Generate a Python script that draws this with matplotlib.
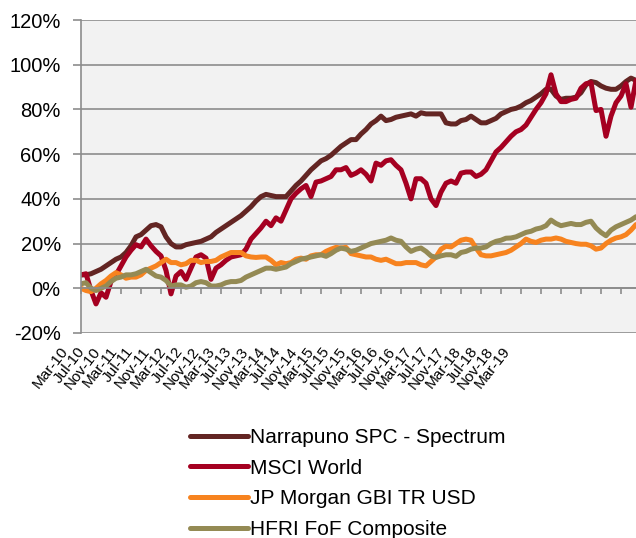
import matplotlib
matplotlib.use('Agg')
import matplotlib.pyplot as plt
import matplotlib.transforms as mtransforms
import numpy as np

plt.rcParams['font.family'] = ['Liberation Sans', 'DejaVu Sans']

# cumulative performance, monthly from Mar-10 (in %)
narrapuno = [6, 6, 6.5, 7.5, 8.5, 10, 11.5, 13, 14, 16,
             19, 23, 24, 26, 28, 28.5, 27.5, 23, 20, 18.5,
             18.5, 19.5, 20, 20.5, 21, 22, 23, 25, 26.5, 28,
             29.5, 31, 32.5, 34.5, 36.5, 39, 41, 42, 41.5, 41,
             41, 41, 43.5, 46, 48, 50.5, 53, 55, 57, 58,
             59.5, 61.5, 63.5, 65, 66.5, 66.5, 69, 71, 73.5, 75,
             77, 75, 75.5, 76.5, 77, 77.5, 78, 77, 78.5, 78,
             78, 78, 78, 74, 73.5, 73.5, 75, 75.5, 77, 75.5,
             74, 74, 75, 76, 78, 79, 80, 80.5, 81.5, 83,
             84, 85.5, 87, 89, 89, 86, 84.5, 85, 85, 85.5,
             87.5, 91, 92.5, 92, 90.5, 89.5, 89, 89, 90.5, 92.5,
             94, 93]
msci = [6, 6.5, -1, -7, -2, -4, 3, 6, 10, 14,
        17, 19.5, 18.5, 22, 19, 16.5, 14.5, 8, -2.5, 5.5,
        7.5, 4, 9, 14, 15, 13.5, 4, 9, 10.5, 12.5,
        14, 14.5, 15, 17.5, 22, 24.5, 27, 30, 28, 31.5,
        30, 35, 40, 42.5, 44.5, 46, 41, 47.5, 48, 49,
        50, 53, 53, 54, 50.5, 51.5, 53, 51, 48, 56,
        55, 57, 57.5, 55, 53, 47, 40, 49, 49, 47,
        40, 37, 43, 47, 48, 47, 51.5, 52, 52, 50,
        51, 53, 57, 61, 63, 65.5, 68, 70, 71, 73,
        76.5, 80, 83, 87, 95.5, 87, 83.5, 83.5, 84.5, 85,
        89.5, 91.5, 92, 79.5, 80, 68, 77, 83, 86, 91.5,
        81, 93]
jpm_gbi = [0, -1, -1.5, 0, 2, 3.5, 5.5, 7, 6, 4.5,
           5, 5, 6, 8, 9, 10, 11.5, 13, 11.5, 11.5,
           10.5, 11, 12.5, 12.5, 11.5, 12, 12, 12.5, 14, 15,
           16, 16, 16, 14.5, 14, 13.8, 14, 14, 12.5, 10.5,
           11.5, 11, 11.5, 13, 13.5, 13, 14.5, 15, 15, 16.5,
           17.5, 18.3, 18, 18.3, 15.5, 15, 14.5, 14, 14, 13,
           12.5, 13, 12, 11, 11, 11.5, 11.5, 11.5, 10.5, 10,
           12, 14, 17.5, 18.8, 18.5, 20, 21.5, 22, 21.5, 18,
           15, 14.5, 14.5, 15, 15.5, 16, 17, 18.5, 20, 22,
           21, 20.5, 21.5, 22, 22, 22.5, 22, 21, 20.5, 20,
           19.7, 19.7, 19, 17.5, 18, 20, 21.5, 22.5, 23, 24,
           26, 28.5]
hfri = [2, 2.5, 0, -1, 0, 1, 3, 4.5, 5, 6,
        6, 6.5, 7.5, 8.5, 7, 5.5, 5, 3.5, 1, 1.5,
        1.5, 0.5, 1, 2.5, 3, 2.5, 1, 1, 1.5, 2.5,
        3, 3, 3.5, 5, 6, 7, 8, 9, 9, 8.5,
        9, 9.5, 11, 12, 13, 13.5, 14, 14.5, 15, 14.3,
        15.5, 17, 18, 17.5, 16.5, 17, 18, 19, 20, 20.5,
        21, 21.5, 22.5, 21.5, 21, 18.5, 16.5, 17.5, 18, 16.5,
        14.5, 13.8, 14.5, 15, 15, 14.3, 16, 16.5, 17.5, 18,
        18, 18.5, 20, 21, 21.5, 22.4, 22.5, 23, 24, 25,
        25.5, 26.5, 27, 28, 30.5, 29, 28, 28.5, 29, 28.5,
        28.5, 29.5, 30, 27, 25, 23.5, 26, 27.5, 28.5, 29.5,
        30.5, 32]

series_names = ['Narrapuno SPC - Spectrum', 'MSCI World',
                'JP Morgan GBI TR USD', 'HFRI FoF Composite']
series_colors = ['#632523', '#A50021', '#F7831F', '#948A54']

month_labels = ['Mar-10', 'Jul-10', 'Nov-10', 'Mar-11', 'Jul-11', 'Nov-11',
                'Mar-12', 'Jul-12', 'Nov-12', 'Mar-13', 'Jul-13', 'Nov-13',
                'Mar-14', 'Jul-14', 'Nov-14', 'Mar-15', 'Jul-15', 'Nov-15',
                'Mar-16', 'Jul-16', 'Nov-16', 'Mar-17', 'Jul-17', 'Nov-17',
                'Mar-18', 'Jul-18', 'Nov-18', 'Mar-19']

fig = plt.figure(figsize=(6.36, 5.38), dpi=100)
ax = fig.add_axes([81 / 636, 1 - 333 / 538, 1 - 81 / 636, 313 / 538])
ax.set_facecolor('#F2F2F2')

x = np.arange(len(narrapuno))
for vals, name, col in zip([narrapuno, msci, jpm_gbi, hfri], series_names, series_colors):
    ax.plot(x, vals, color=col, lw=3.6, label=name,
            solid_joinstyle='round', solid_capstyle='round')

ax.set_xlim(0, len(x) - 1)
ax.set_ylim(-20, 120)
ax.set_yticks(np.arange(-20, 121, 20))
ax.set_yticklabels([f'{v}%' for v in range(-20, 121, 20)], fontsize=14.5)
ax.grid(axis='y', color='#8C8C8C', lw=1.2)
ax.set_axisbelow(True)

for s in ['top', 'right']:
    ax.spines[s].set_visible(False)
ax.spines['left'].set_color('#8C8C8C')
ax.spines['left'].set_linewidth(1.2)
ax.spines['bottom'].set_position(('data', 0))
ax.spines['bottom'].set_color('#8C8C8C')
ax.spines['bottom'].set_linewidth(1.2)
ax.tick_params(axis='y', length=6, width=1.2, color='#8C8C8C', pad=8.5)
ax.set_xticks(np.arange(0, len(x), 4))
ax.tick_params(axis='x', length=4, width=1.2, color='#8C8C8C', labelbottom=False)

# category labels below the plot
trans = mtransforms.blended_transform_factory(ax.transData, ax.transAxes)
label_pos = np.linspace(-2.0, 86.4, len(month_labels))
for xp, lab in zip(label_pos, month_labels):
    ax.text(xp, -0.036, lab, transform=trans, rotation=52, ha='right', va='top',
            fontsize=11, clip_on=False)

handles, labels = ax.get_legend_handles_labels()
leg = fig.legend(handles, labels, loc='upper left', bbox_to_anchor=(190 / 636, 1 - 428 / 538),
                 frameon=False, fontsize=15, handlelength=2.8, handletextpad=0.1,
                 labelspacing=0.56, borderpad=0, borderaxespad=0)

fig.savefig('out.png', dpi=100)
